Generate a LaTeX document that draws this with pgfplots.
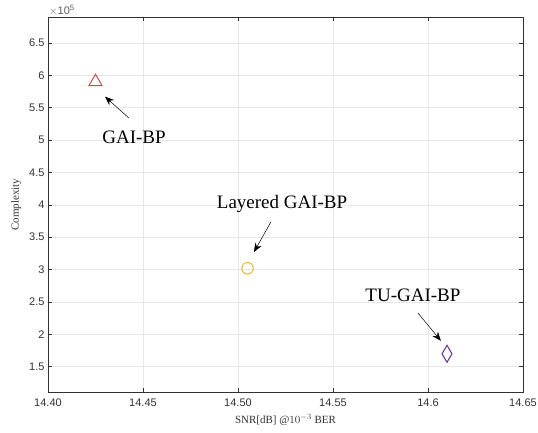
\documentclass[border=0pt]{standalone}
\usepackage{fontspec}
\setmainfont{Liberation Serif}
\setsansfont{Liberation Sans}
\usepackage{pgfplots}
\pgfplotsset{compat=1.18}
\usetikzlibrary{arrows.meta}

\definecolor{cTri}{RGB}{212,72,80}
\definecolor{cCirc}{RGB}{240,180,30}
\definecolor{cDia}{RGB}{110,40,150}
\definecolor{axgray}{RGB}{50,50,50}

\begin{document}
\begin{tikzpicture}
\useasboundingbox (-48pt,-40pt) rectangle (490pt,392pt);
\begin{axis}[
  at={(0pt,0pt)}, anchor=origin,
  width=475pt, height=375pt, scale only axis,
  xmin=14.40, xmax=14.65, ymin=111000, ymax=690000,
  xtick={14.40,14.45,14.50,14.55,14.60,14.65},
  xticklabels={14.40,14.45,14.50,14.55,14.6,14.65},
  ytick={150000,200000,250000,300000,350000,400000,450000,500000,550000,600000,650000},
  scaled y ticks=base 10:-5,
  ytick scale label code/.code={\sffamily$\times$10\textsuperscript{5}},
  yticklabel style={/pgf/number format/fixed,/pgf/number format/precision=1},
  every y tick scale label/.style={at={(0,1)},anchor=south west,inner sep=1pt,font=\sffamily\fontsize{11}{13}\selectfont,text=axgray!80},
  ticklabel style={font=\sffamily\fontsize{11}{13}\selectfont,text=axgray},
  xticklabel style={yshift=-3pt},
  /pgf/number format/assume math mode=true,
  tick align=inside, major tick length=4pt,
  tick style={axgray, line width=0.6pt},
  axis line style={axgray, line width=0.7pt},
  grid=major, grid style={gray!18, line width=0.6pt},
  xlabel={SNR[dB] @$10^{-3}$ BER},
  ylabel={Complexity},
  label style={font=\fontsize{11}{13}\selectfont, text=axgray},
  xlabel style={yshift=-1pt},
  ylabel style={yshift=1pt},
]
\addplot[only marks, mark=triangle, mark size=7.5pt, color=cTri, line width=1pt] coordinates {(14.425,590000)};
\addplot[only marks, mark=o, mark size=5.8pt, color=cCirc, line width=1pt] coordinates {(14.505,302000)};
\addplot[only marks, mark=diamond, mark size=8.5pt, mark options={xscale=0.78}, color=cDia, line width=1pt] coordinates {(14.610,170000)};

\draw[-{Stealth[length=9pt,width=7pt]}, line width=0.5pt] (axis cs:14.4426,534000) -- (axis cs:14.4300,567000);
\node[font=\fontsize{19}{21}\selectfont] at (axis cs:14.4453,505000) {GAI-BP};
\draw[-{Stealth[length=9pt,width=7pt]}, line width=0.5pt] (axis cs:14.5174,374000) -- (axis cs:14.5084,327000);
\node[font=\fontsize{19}{21}\selectfont] at (axis cs:14.5232,401500) {Layered GAI-BP};
\draw[-{Stealth[length=9pt,width=7pt]}, line width=0.5pt] (axis cs:14.5947,233000) -- (axis cs:14.6068,190000);
\node[font=\fontsize{19}{21}\selectfont] at (axis cs:14.5921,260000) {TU-GAI-BP};
\end{axis}
\end{tikzpicture}
\end{document}
